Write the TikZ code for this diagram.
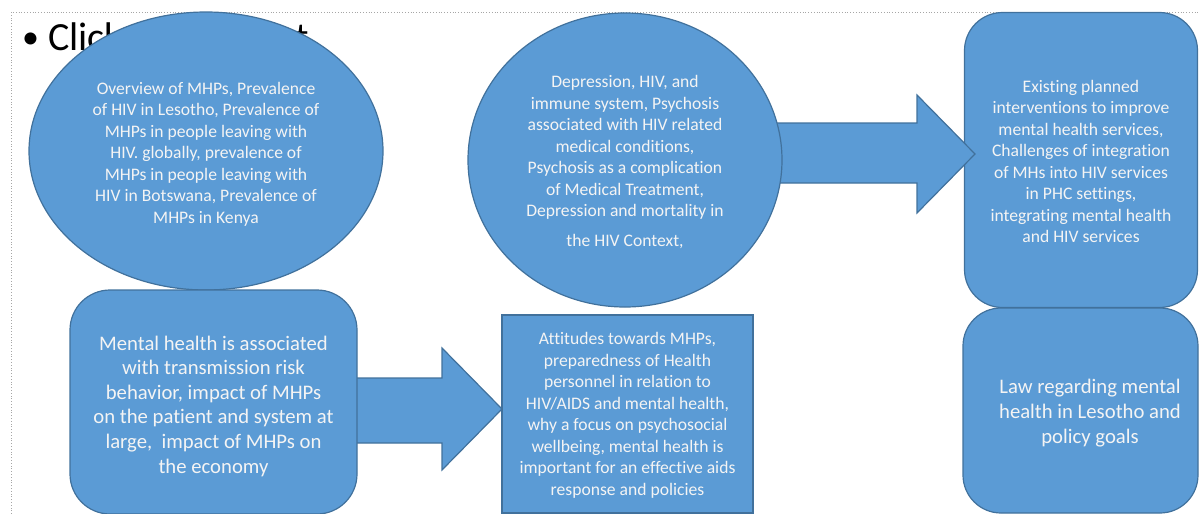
\documentclass[tikz,border=0pt]{standalone}
\usepackage{fontspec}
\setmainfont{Carlito}[Ligatures=NoCommon]
\usetikzlibrary{shapes.geometric}
\definecolor{boxfill}{HTML}{5B9BD5}
\definecolor{boxline}{HTML}{41719C}
\definecolor{boxtext}{HTML}{F4F4F4}
\begin{document}
\begin{tikzpicture}[x=1pt,y=-1pt,
  blob/.style={draw=boxline,fill=boxfill,line width=1.2pt,inner sep=0pt},
  oval/.style={blob,ellipse},
  rbox/.style={blob,rectangle,rounded corners=#1},
  sbox/.style={blob,rectangle},
  label text/.style={text=boxtext,align=center,inner sep=0pt},
  blockarrow/.style={draw=boxline,fill=boxfill,line width=1.2pt,line join=miter},
  small/.style={label text,font=\fontsize{17.6}{21.5}\selectfont},
  large/.style={label text,font=\fontsize{20.7}{24.6}\selectfont},
  bigtext/.style={anchor=base west,inner sep=0pt,font=\fontsize{40}{48}\selectfont}]
\useasboundingbox (0,0) rectangle (1200,514);
\draw[gray!70,dotted,line width=0.8pt] (11,514) -- (11,12) -- (1200,12);
\node[bigtext,font=\fontsize{34}{40}\selectfont] (bul) at (22,48) {•};
\node[bigtext] (click) at (48,50) {Click to add text};

\node[oval,minimum width=354pt,minimum height=278pt] (e1) at (206,151) {};
\node[small] (e1t) at (206,154)
 {Overview of MHPs, Prevalence\\of HIV in Lesotho, Prevalence of\\MHPs in people leaving with\\HIV. globally, prevalence of\\MHPs in people leaving with\\HIV in Botswana, Prevalence of\\MHPs in Kenya};

\draw[blockarrow] (350,378) -- (442,378) -- (442,348) -- (502,409) -- (442,470) -- (442,443) -- (350,443) -- cycle;

\node[rbox=40pt,minimum width=287pt,minimum height=224pt] (b1) at (213.5,402) {};
\node[large] (b1t) at (213.5,406)
 {Mental health is associated\\with transmission risk\\behavior, impact of MHPs\\on the patient and system at\\large,\ \ impact of MHPs on\\the economy};

\node[sbox,minimum width=251pt,minimum height=198pt] (b2) at (627.5,414) {};
\node[small] (b2t) at (627.5,415.5)
 {Attitudes towards MHPs,\\preparedness of Health\\personnel in relation to\\HIV/AIDS and mental health,\\why a focus on psychosocial\\wellbeing, mental health is\\important for an effective aids\\response and policies};

\node[rbox=38pt,minimum width=233pt,minimum height=295pt] (r1) at (1081,160) {};
\node[small] (r1t) at (1081,161.5)
 {Existing planned\\interventions to improve\\mental health services,\\Challenges of integration\\of MHs into HIV services\\in PHC settings,\\integrating mental health\\and HIV services};

\draw[blockarrow] (770,123) -- (917,123) -- (917,95) -- (975,154) -- (917,213) -- (917,183) -- (770,183) -- cycle;

\node[oval,minimum width=314pt,minimum height=294pt] (e2) at (625,160) {};
\node[small] (e2t) at (625,162)
 {Depression, HIV, and\\immune system, Psychosis\\associated with HIV related\\medical conditions,\\Psychosis as a complication\\of Medical Treatment,\\Depression and mortality in\\[8pt]the HIV Context,};

\node[rbox=38pt,minimum width=235pt,minimum height=205pt] (r2) at (1080.5,410.5) {};
\node[large] (r2t) at (1090,413)
 {Law regarding mental\\health in Lesotho and\\policy goals};
\end{tikzpicture}
\end{document}
